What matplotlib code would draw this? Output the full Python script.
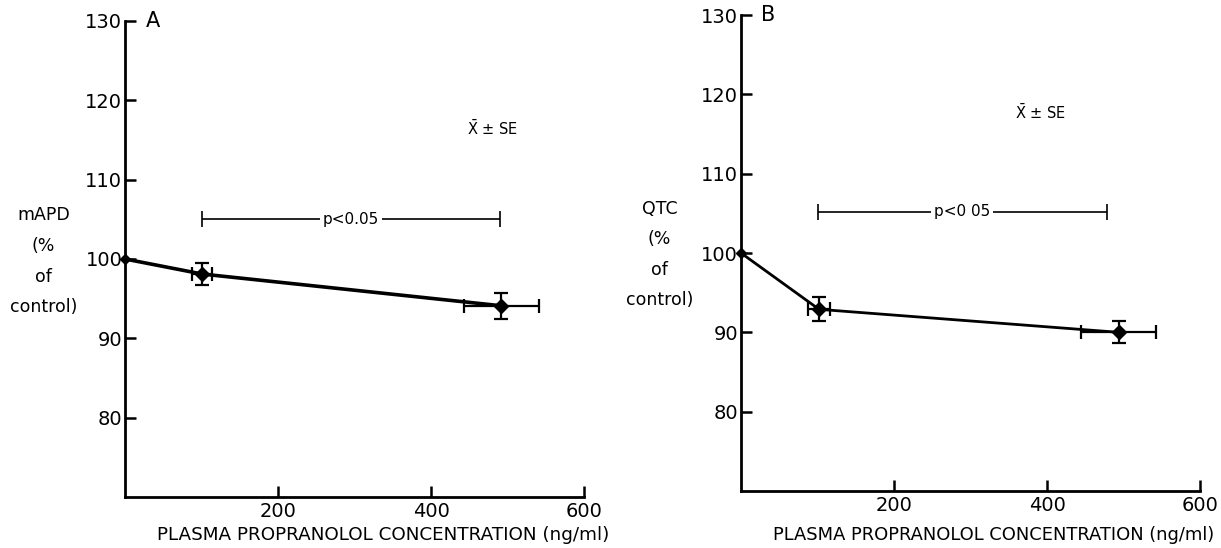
import matplotlib
matplotlib.use("Agg")
import matplotlib.pyplot as plt

# Panel A (mAPD)
conc_a = [0, 101, 492]
val_a = [100, 98.1, 94.1]
xerr_a = [0, 13, 49]
yerr_a = [0, 1.4, 1.65]

# Panel B (QTC)
conc_b = [0, 102, 494]
val_b = [100, 92.9, 90.0]
xerr_b = [0, 14, 49]
yerr_b = [0, 1.5, 1.4]

sig_a = (100, 490, 105.0, "p<0.05")
sig_b = (100, 478, 105.2, "p<0 05")

yticks = [80, 90, 100, 110, 120, 130]
xticks = [200, 400, 600]
xlabel = "PLASMA PROPRANOLOL CONCENTRATION (ng/ml)"

plt.rcParams['font.family'] = ['DejaVu Sans']

fig = plt.figure(figsize=(12.21, 5.48), dpi=100)
axA = fig.add_axes([0.1024, 0.0931, 0.3759, 0.8686])
axB = fig.add_axes([0.6069, 0.1040, 0.3759, 0.8686])


def draw(ax, conc, val, xerr, yerr, sig, ylab, letter, note_xy, lw, ylab_y, xl_pos, xl_size):
    ax.plot(conc, val, color='black', lw=lw, zorder=2)
    ax.plot(conc[0], val[0], marker='D', color='black', ms=5, zorder=3, clip_on=False)
    ax.errorbar(conc[1:], val[1:], xerr=xerr[1:], yerr=yerr[1:], fmt='D',
                color='black', ms=7, elinewidth=1.6, capsize=5, capthick=1.6, zorder=3)
    x0, x1, yy, txt = sig
    ax.errorbar([(x0 + x1) / 2], [yy], xerr=[(x1 - x0) / 2], fmt='none',
                ecolor='black', elinewidth=1.2, capsize=6, capthick=1.2)
    ax.text((x0 + x1) / 2, yy, txt, ha='center', va='center', fontsize=11,
            bbox=dict(facecolor='white', edgecolor='none', pad=2))
    ax.text(note_xy[0], note_xy[1], r"$\bar{\mathrm{X}}$ ± SE", ha='center', va='center', fontsize=10.5)
    ax.set_xlim(0, 600)
    ax.set_ylim(70, 130)
    ax.set_yticks(yticks)
    ax.set_xticks(xticks)
    ax.spines['top'].set_visible(False)
    ax.spines['right'].set_visible(False)
    for s in ('left', 'bottom'):
        ax.spines[s].set_linewidth(2)
    ax.tick_params(direction='in', length=8, width=1.8, labelsize=14)
    ax.tick_params(axis='y', pad=2)
    ax.set_xlabel(xlabel, fontsize=xl_size)
    ax.xaxis.set_label_coords(xl_pos[0], xl_pos[1], transform=ax.transAxes)
    ax.xaxis.label.set_va('center')
    ax.text(-0.178, ylab_y, ylab, transform=ax.transAxes, ha='center', va='center',
            fontsize=12.5, linespacing=1.9)
    ax.text(0.06, 1.0, letter, transform=ax.transAxes, ha='center', va='center', fontsize=15)


draw(axA, conc_a, val_a, xerr_a, yerr_a, sig_a, "mAPD\n(%\nof\ncontrol)", "A",
     (480, 116.5), 2.6, 0.495, (0.562, -0.080), 13.2)
draw(axB, conc_b, val_b, xerr_b, yerr_b, sig_b, "QTC\n(%\nof\ncontrol)", "B",
     (391, 117.7), 2.0, 0.497, (0.551, -0.092), 12.9)

fig.savefig("out.png", dpi=100)
